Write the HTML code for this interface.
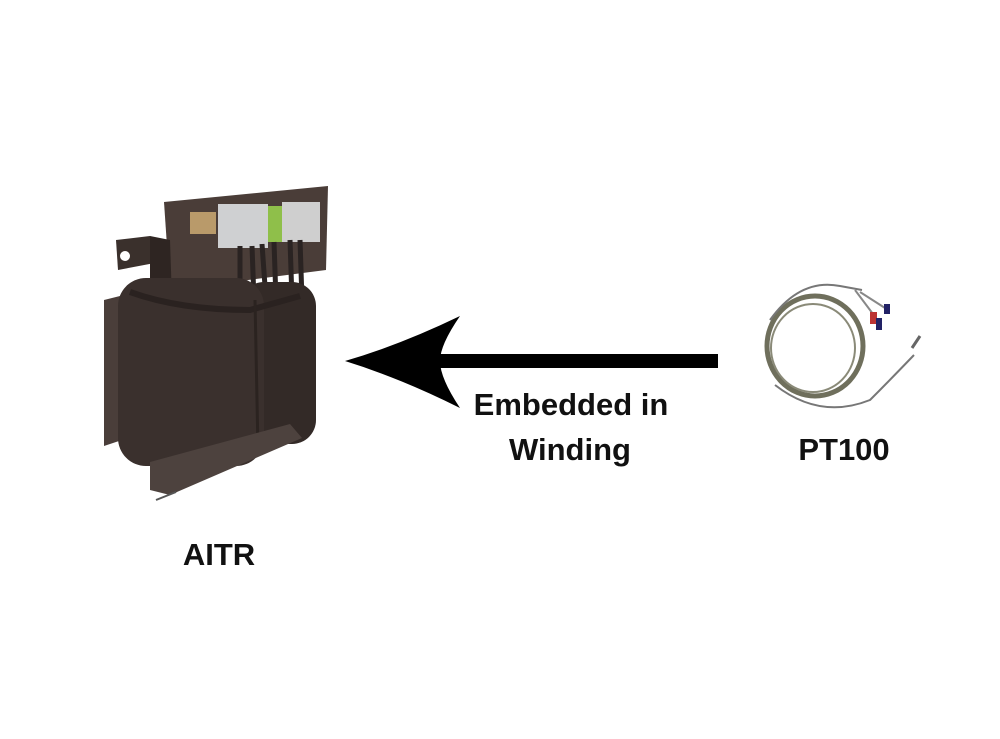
<!DOCTYPE html>
<html><head><style>
html,body{margin:0;padding:0;background:#fff;width:1000px;height:739px;overflow:hidden}
svg{display:block}
</style></head><body>
<svg width="1000" height="739" viewBox="0 0 1000 739">
<rect width="1000" height="739" fill="#fff"/>
<g>
 <path d="M116 240 L150 236 L160 262 L118 270 Z" fill="#3a302c"/>
 <circle cx="125" cy="256" r="5" fill="#fff"/>
 <path d="M164 202 L328 186 L326 270 L170 290 Z" fill="#4a3d38"/>
 <path d="M150 236 L170 240 L172 300 L150 290 Z" fill="#2e2522"/>
 <rect x="190" y="212" width="26" height="22" fill="#b99a6a"/>
 <rect x="218" y="204" width="50" height="44" fill="#cfd0d2"/>
 <rect x="268" y="206" width="14" height="36" fill="#8fbf4a"/>
 <rect x="282" y="202" width="38" height="40" fill="#cfcfcf"/>
 <path d="M240 246 L240 300 M252 246 L254 300 M262 244 L266 300 M274 242 L276 300 M290 240 L292 300 M300 240 L302 300" stroke="#2a2322" stroke-width="5" fill="none"/>
 <!-- left side bracket -->
 <path d="M104 300 L120 296 L122 440 L104 446 Z" fill="#4a3e3a"/>
 <!-- right coil -->
 <rect x="240" y="282" width="76" height="162" rx="24" fill="#332a27"/>
 <!-- left coil -->
 <rect x="118" y="278" width="146" height="188" rx="28" fill="#3a302d"/>
 <path d="M130 292 Q180 310 250 310 L300 296" stroke="#2a2220" stroke-width="6" fill="none"/>
 <path d="M255 300 L258 450" stroke="#2b2320" stroke-width="3" fill="none"/>
 <!-- base plate -->
 <path d="M150 462 L290 424 L302 438 L170 495 L150 490 Z" fill="#4d423e"/>
 <path d="M156 500 L176 492" stroke="#555" stroke-width="2"/>
</g>
<rect x="438" y="354" width="280" height="14" fill="#000"/>
<path d="M345 361 Q400 345 460 316 Q440 345 440 361 Q440 378 460 408 Q400 378 345 361 Z" fill="#000"/>
<g fill="none">
 <ellipse cx="815" cy="346" rx="48" ry="50" stroke="#6f6f5c" stroke-width="5"/>
 <ellipse cx="813" cy="348" rx="42" ry="44" stroke="#8a8a78" stroke-width="2"/>
 <path d="M770 320 Q800 278 840 286 L862 290" stroke="#777" stroke-width="2"/>
 <path d="M775 385 Q820 420 870 400 Q890 380 914 355" stroke="#777" stroke-width="2"/>
 <path d="M912 348 L920 336" stroke="#666" stroke-width="3"/>
 <path d="M855 290 L876 318 M860 292 L885 308" stroke="#888" stroke-width="2"/>
 <rect x="870" y="312" width="7" height="12" fill="#b33"/>
 <rect x="876" y="318" width="6" height="12" fill="#226"/>
 <rect x="884" y="304" width="6" height="10" fill="#226"/>
</g>
<g font-family="Liberation Sans, sans-serif" font-weight="bold" font-size="31" fill="#111" text-anchor="middle">
 <text x="571" y="415">Embedded in</text>
 <text x="570" y="460">Winding</text>
 <text x="844" y="460">PT100</text>
 <text x="219" y="565">AITR</text>
</g>
</svg>
</body></html>
